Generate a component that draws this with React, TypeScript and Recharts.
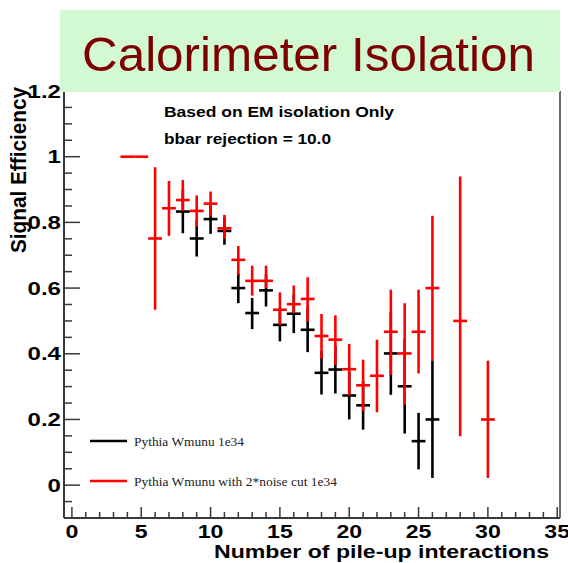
import { ScatterChart, Scatter, XAxis, YAxis, ErrorBar, ReferenceLine, Customized } from 'recharts'

// red: Pythia Wmunu with 2*noise cut 1e34
const redX = [4, 5, 6, 7, 8, 9, 10, 11, 12, 13, 14, 15, 16, 17, 18, 19, 20, 21, 22, 23, 24, 25, 26, 28, 30]
const redY = [1.0, 1.0, 0.751, 0.843, 0.868, 0.835, 0.857, 0.782, 0.686, 0.622, 0.622, 0.534, 0.551, 0.567, 0.454, 0.443, 0.353, 0.304, 0.333, 0.467, 0.401, 0.467, 0.6, 0.5, 0.2]
const redLo = [1.0, 1.0, 0.534, 0.759, 0.835, 0.787, 0.818, 0.75, 0.64, 0.577, 0.6, 0.488, 0.524, 0.498, 0.385, 0.366, 0.273, 0.225, 0.222, 0.336, 0.245, 0.34, 0.38, 0.149, 0.022]
const redHi = [1.0, 1.0, 0.968, 0.926, 0.929, 0.882, 0.894, 0.823, 0.728, 0.668, 0.668, 0.587, 0.608, 0.633, 0.521, 0.517, 0.43, 0.382, 0.443, 0.595, 0.554, 0.595, 0.82, 0.94, 0.379]

// black: Pythia Wmunu 1e34
const blackX = [8, 9, 10, 11, 12, 13, 14, 15, 16, 17, 18, 19, 20, 21, 23, 24, 25, 26]
const blackY = [0.833, 0.751, 0.81, 0.774, 0.6, 0.524, 0.593, 0.488, 0.522, 0.473, 0.342, 0.352, 0.273, 0.243, 0.401, 0.301, 0.134, 0.2]
const blackLo = [0.767, 0.696, 0.765, 0.732, 0.554, 0.475, 0.544, 0.438, 0.463, 0.405, 0.276, 0.279, 0.2, 0.169, 0.275, 0.157, 0.048, 0.022]
const blackHi = [0.899, 0.806, 0.855, 0.816, 0.646, 0.57, 0.642, 0.538, 0.581, 0.541, 0.408, 0.425, 0.346, 0.317, 0.527, 0.445, 0.22, 0.38]

const binHalfWidth = 0.5

const xTicks = [0, 1, 2, 3, 4, 5, 6, 7, 8, 9, 10, 11, 12, 13, 14, 15, 16, 17, 18, 19, 20, 21, 22, 23, 24, 25, 26, 27, 28, 29, 30, 31, 32, 33, 34, 35]
const xLabels = [0, 5, 10, 15, 20, 25, 30, 35]
const yTicks = [-0.05, 0, 0.05, 0.1, 0.15, 0.2, 0.25, 0.3, 0.35, 0.4, 0.45, 0.5, 0.55, 0.6, 0.65, 0.7, 0.75, 0.8, 0.85, 0.9, 0.95, 1, 1.05, 1.1, 1.15, 1.2]
const yLabels = [0, 0.2, 0.4, 0.6, 0.8, 1, 1.2]

const xMin = -0.57
const xMax = 35.2

const axisColor = '#3a3a3a'
const sans = '"Liberation Sans", Arial, Helvetica, sans-serif'
const serif = '"Liberation Serif", "Times New Roman", serif'

const toPoints = (xs: number[], ys: number[], lo: number[], hi: number[]) =>
  xs.map((x, i) => ({ x, y: ys[i], yErr: [ys[i] - lo[i], hi[i] - ys[i]], xErr: binHalfWidth }))

const redData = toPoints(redX, redY, redLo, redHi)
const blackData = toPoints(blackX, blackY, blackLo, blackHi)

const YTick = (props: any) => {
  const { x, y, payload } = props
  const v = payload.value
  const major = yLabels.includes(v)
  return (
    <g>
      <line x1={x} x2={x + (major ? 16 : 8)} y1={y} y2={y} stroke={axisColor} strokeWidth={1.5} />
      {major && (
        <text
          transform={`translate(${x - 3},${y + 6.5}) scale(1.3,1)`}
          textAnchor="end"
          fontFamily={sans}
          fontWeight="bold"
          fontSize={18.5}
          fill="#000"
        >
          {String(v)}
        </text>
      )}
    </g>
  )
}

const XTick = (props: any) => {
  const { x, y, payload } = props
  const v = payload.value
  const major = xLabels.includes(v)
  return (
    <g>
      <line x1={x} x2={x} y1={y} y2={y - (major ? 11 : 6)} stroke={axisColor} strokeWidth={1.5} />
      {major && (
        <text
          transform={`translate(${x},${y + 20}) scale(1.25,1)`}
          textAnchor="middle"
          fontFamily={sans}
          fontWeight="bold"
          fontSize={18.5}
          fill="#000"
        >
          {String(v)}
        </text>
      )}
    </g>
  )
}

const Annotations = () => (
  <g>
    <text x={164} y={117} fontFamily={sans} fontWeight="bold" fontSize={14} textLength={230} lengthAdjust="spacingAndGlyphs">
      Based on EM isolation Only
    </text>
    <text x={164} y={143.5} fontFamily={sans} fontWeight="bold" fontSize={14} textLength={167} lengthAdjust="spacingAndGlyphs">
      bbar rejection = 10.0
    </text>

    <line x1={90} x2={127} y1={441} y2={441} stroke="#000" strokeWidth={2.5} />
    <text x={134} y={445.5} fontFamily={serif} fontSize={13} fill="#222" textLength={110} lengthAdjust="spacingAndGlyphs">
      Pythia Wmunu 1e34
    </text>
    <line x1={90} x2={127} y1={481} y2={481} stroke="#ff0000" strokeWidth={2.5} />
    <text x={134} y={485.5} fontFamily={serif} fontSize={13} fill="#222" textLength={203} lengthAdjust="spacingAndGlyphs">
      Pythia Wmunu with 2*noise cut 1e34
    </text>

    <text x={214} y={558} fontFamily={sans} fontWeight="bold" fontSize={19} textLength={335} lengthAdjust="spacingAndGlyphs">
      Number of pile-up interactions
    </text>
    <text
      transform="translate(26,253) scale(1.25,1) rotate(-90)"
      fontFamily={sans}
      fontWeight="bold"
      fontSize={17}
      textLength={166}
      lengthAdjust="spacingAndGlyphs"
    >
      Signal Efficiency
    </text>
  </g>
)

export default function App() {
  return (
    <div style={{ position: 'absolute', left: 0, top: 0, width: 568, height: 563, background: '#fff' }}>
      <ScatterChart width={568} height={563} margin={{ top: 91, right: 8, bottom: 0, left: 0 }}>
        <XAxis
          type="number"
          dataKey="x"
          domain={[xMin, xMax]}
          allowDataOverflow
          ticks={xTicks}
          interval={0}
          height={45}
          tickSize={0}
          tickMargin={0}
          tick={<XTick />}
          tickLine={false}
          axisLine={{ stroke: axisColor, strokeWidth: 2 }}
        />
        <YAxis
          type="number"
          dataKey="y"
          domain={[-0.1, 1.2]}
          allowDataOverflow
          ticks={yTicks}
          interval={0}
          width={64}
          tickSize={0}
          tickMargin={0}
          tick={<YTick />}
          tickLine={false}
          axisLine={{ stroke: axisColor, strokeWidth: 2 }}
        />
        <ReferenceLine x={xMax} stroke={axisColor} strokeWidth={1.5} />
        <Scatter data={blackData} isAnimationActive={false} shape={() => <g />}>
          <ErrorBar dataKey="yErr" direction="y" width={0} stroke="#000" strokeWidth={2.6} isAnimationActive={false} />
          <ErrorBar dataKey="xErr" direction="x" width={0} stroke="#000" strokeWidth={2.6} isAnimationActive={false} />
        </Scatter>
        <Scatter data={redData} isAnimationActive={false} shape={() => <g />}>
          <ErrorBar dataKey="yErr" direction="y" width={0} stroke="#ff0000" strokeWidth={2.6} isAnimationActive={false} />
          <ErrorBar dataKey="xErr" direction="x" width={0} stroke="#ff0000" strokeWidth={2.6} isAnimationActive={false} />
        </Scatter>
        <Customized component={<Annotations />} />
      </ScatterChart>
      <svg width={568} height={563} style={{ position: 'absolute', left: 0, top: 0, pointerEvents: 'none' }}>
        <rect x={60} y={10} width={500} height={82} fill="#d3f9d3" />
        <text x={82} y={71} fontFamily={sans} fontSize={49} fill="#7d0000" textLength={453} lengthAdjust="spacingAndGlyphs">
          Calorimeter Isolation
        </text>
      </svg>
    </div>
  )
}
